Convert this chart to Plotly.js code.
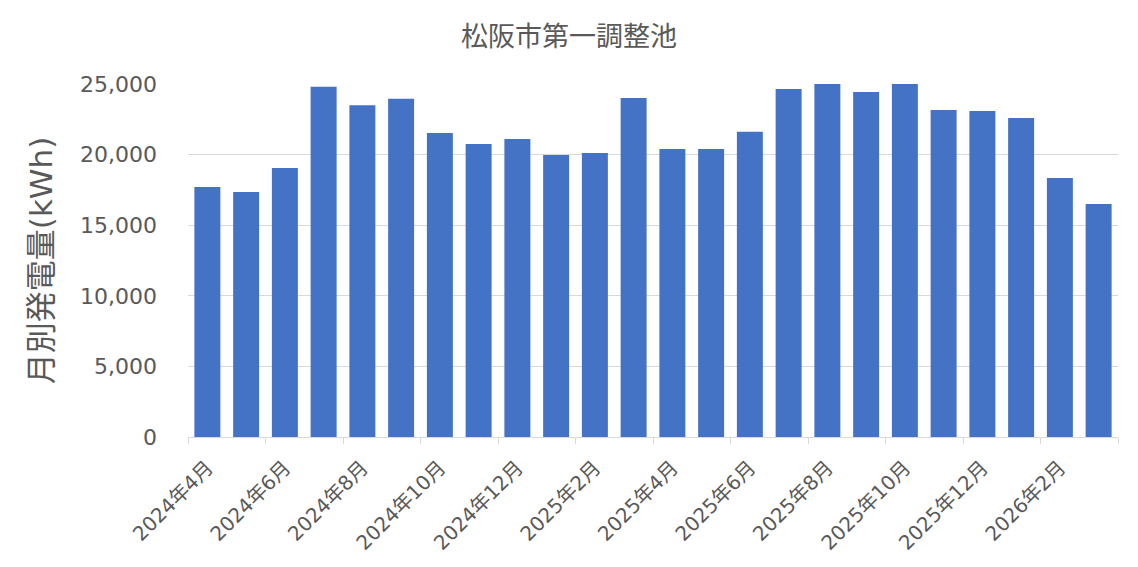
<!DOCTYPE html>
<html>
<head>
<meta charset="utf-8">
<script src="https://cdn.plot.ly/plotly-3.0.1.min.js"></script>
<style>html,body{margin:0;padding:0;background:#fff;}#chart{width:1138px;height:567px;}</style>
</head>
<body>
<div id="chart"></div>
<script>
const months = ["2024年4月","2024年5月","2024年6月","2024年7月","2024年8月","2024年9月","2024年10月","2024年11月","2024年12月","2025年1月","2025年2月","2025年3月","2025年4月","2025年5月","2025年6月","2025年7月","2025年8月","2025年9月","2025年10月","2025年11月","2025年12月","2026年1月","2026年2月","2026年3月"];
const generation = [17700,17350,19050,24800,23500,23950,21530,20750,21100,19970,20110,24010,20400,20400,21620,24650,25000,24430,25000,23160,23090,22600,18350,16500];
const chartTitle = "松阪市第一調整池";
const yTitle = "月別発電量(kWh)";
const yTicks = [0,5000,10000,15000,20000,25000];

const idx = months.map((m,i)=>i);
const labelIdx = idx.filter(i=>i%2===0);
const boundaryIdx = [];
for (let i=0;i<=months.length;i+=2) boundaryIdx.push(i-0.5);

const font = "DejaVu Sans, Noto Sans CJK JP, sans-serif";
const grey = "#595959";

const data = [{
  type:"bar",
  x: idx,
  y: generation,
  marker:{color:"#4472c4"},
  hoverinfo:"x+y"
},{
  type:"scatter", x:[], y:[], xaxis:"x2", yaxis:"y", showlegend:false
}];

const layout = {
  width:1138, height:567,
  margin:{l:188, r:20, t:84, b:130},
  paper_bgcolor:"#fff", plot_bgcolor:"#fff",
  showlegend:false,
  bargap:0.33,
  font:{family:font, color:grey},
  title:{text:chartTitle, x:0.5, xanchor:"center", y:0.935, yanchor:"middle", font:{size:27, color:grey, family:font}},
  xaxis:{
    type:"linear", range:[-0.5, months.length-0.5],
    tickvals:labelIdx, ticktext:labelIdx.map(i=>months[i]),
    tickangle:-45, ticks:"", showgrid:false, zeroline:false,
    showline:true, linecolor:"#d9d9d9", linewidth:1,
    ticklabelstandoff:10,
    tickfont:{size:20, color:grey, family:font}
  },
  xaxis2:{
    overlaying:"x", matches:"x", type:"linear",
    tickvals:boundaryIdx, showticklabels:false,
    ticks:"outside", ticklen:6, tickcolor:"#d9d9d9", tickwidth:1,
    showgrid:false, zeroline:false, showline:false, side:"bottom"
  },
  yaxis:{
    range:[0,25000], tickvals:yTicks, ticktext:yTicks.map(v=>v.toLocaleString("en-US")),
    showgrid:true, gridcolor:"#d9d9d9", gridwidth:1, zeroline:false,
    ticks:"", showline:false, ticklabelstandoff:30,
    tickfont:{size:22, color:grey, family:font},
    title:{text:yTitle, standoff:18, font:{size:31, color:grey, family:font}}
  }
};

Plotly.newPlot("chart", data, layout, {displayModeBar:false, staticPlot:true});
</script>
</body>
</html>
